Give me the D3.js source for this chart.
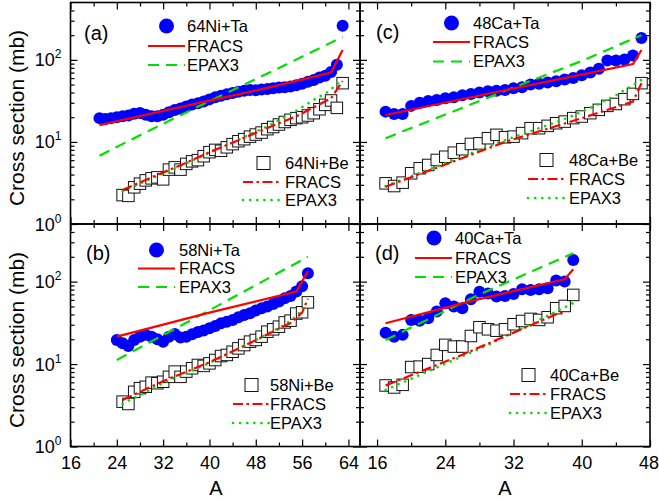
<!DOCTYPE html>
<html>
<head>
<meta charset="utf-8">
<style>
  body { margin: 0; background: #fff; }
  svg text { font-family: "Liberation Sans", Arial, sans-serif; fill: #000; }
</style>
</head>
<body>
<svg id="chart" width="659" height="501"></svg>
<script src="https://cdn.jsdelivr.net/npm/d3@7"></script>
<script>
// ---- data (cross sections in mb) ----
// (a) 64Ni
const aTaMass = d3.range(21, 64)
const aTaXs = [19.5, 19, 19.5, 20, 20.5, 21, 22, 22.5, 21.5, 20.5, 20.5, 21.5, 23, 24.5, 25.5, 27, 28.5, 29.5, 31, 33,
  35, 36.5, 38, 39.5, 41, 42, 43, 42.5, 43.5, 44, 45, 46, 46.5, 47.5, 49, 51, 54, 57, 61, 64, 71, 87, 260]
const aBeMass = d3.range(25, 64)
const aBeXs = [2.25, 2.2, 2.8, 3.1, 3.4, 3.6, 3.7, 3.5, 4.6, 4.9, 4.6, 5.4, 5.8, 6.0, 6.7, 7.5, 8.0, 7.8, 8.6, 9.4,
  10.2, 10.8, 11.6, 12.3, 13.0, 14.3, 15.2, 16.3, 17.5, 18.6, 19.5, 20, 21, 22.4, 25, 28.3, 32, 26, 52]
const aFracsTa = [[21, 16], [30, 22.2], [40, 31.8], [50, 45.5], [61, 70], [63, 132]]
const aEpaxTa = [[21, 6.8], [30, 14.2], [40, 31.5], [50, 68], [63, 190]]
const aFracsBe = [[25, 2.6], [30, 3.7], [35, 5.2], [40, 7.5], [45, 10.5], [50, 14.8], [55, 20.5], [61, 34], [63, 55]]
const aEpaxBe = [[25, 2.5], [30, 3.6], [35, 5.1], [40, 7.4], [45, 10.6], [50, 15.5], [55, 24], [58, 32.5], [60.5, 41], [63, 58]]

// (b) 58Ni
const bTaMass = d3.range(24, 58)
const bTaXs = [19.6, 17.9, 16.6, 19.6, 21.5, 22.6, 21.5, 20, 18.7, 21.5, 23.2, 21, 21.5, 23, 24.5, 25.5, 27.2, 29,
  31.2, 32.7, 34.3, 37, 39.4, 41.4, 44.5, 47.6, 50, 53.6, 57.2, 63, 67, 76, 88, 126]
const bBeMass = d3.range(25, 58)
const bBeXs = [3.5, 3.28, 4.6, 5.1, 5.3, 5.95, 5.85, 6.1, 7.0, 8.1, 7.0, 8.1, 8.9, 9.75, 9.5, 10.2, 11.2, 12.5, 12.9,
  14.1, 15.5, 17, 18.7, 19.6, 21.5, 24.7, 26.4, 28.4, 32, 33.6, 41, 42.5, 56]
const bFracsTa = [[24, 21.5], [40, 42], [55, 75.6], [57, 134]]
const bEpaxTa = [[24, 11.2], [40, 45], [57, 200]]
const bFracsBe = [[25, 3.67], [32, 6.2], [40, 10.5], [47, 18], [54, 31.5], [56, 42], [57, 62]]
const bEpaxBe = [[25, 3.3], [32, 5.9], [40, 10.3], [47, 18], [53, 30], [55, 38], [57, 55]]

// (c) 48Ca
const cTaMass = d3.range(17, 48)
const cTaXs = [23.4, 21.9, 21.9, 27.5, 30, 31.5, 32.5, 34, 35, 37, 38.5, 40, 41.5, 42, 43, 45, 46.5, 50, 51, 53,
  55, 57.5, 60, 65, 70, 78, 98, 98, 101, 113, 185]
const cBeMass = d3.range(17, 48)
const cBeXs = [3.13, 2.9, 3.19, 4.15, 4.78, 5.24, 6.03, 6.6, 7.4, 8.15, 9.45, 9.6, 11.1, 12.2, 11.4, 11.6, 12.8,
  14.7, 14.7, 15.7, 16.9, 17.7, 19.5, 20.4, 22.4, 24.6, 27.5, 29, 33.2, 38.5, 52]
const cFracsTa = [[17, 21.3], [30, 40.6], [46, 89], [47, 132]]
const cEpaxTa = [[17, 11.1], [32, 46], [40, 97], [47, 200]]
const cFracsBe = [[17, 2.85], [24, 5.3], [31, 10], [40, 19.5], [46, 31], [47, 52]]
const cEpaxBe = [[17, 2.9], [24, 5.5], [31, 10.5], [38, 19], [41, 26], [44, 37], [47, 57]]

// (d) 40Ca
const dTaMass = d3.range(17, 40)
const dTaXs = [24, 21.5, 22.6, 34.3, 33.6, 36, 43.3, 54.7, 49.8, 47.6, 61, 75.6, 72, 66, 67, 71, 81, 79, 81, 83,
  103, 100, 183]
const dBeMass = d3.range(17, 40)
const dBeXs = [5.5, 5.2, 5.6, 9.2, 9.3, 10, 12.9, 17.1, 16.3, 16.3, 21.9, 28, 26.4, 25.4, 26.4, 30.4, 33.3, 35.3,
  34.3, 37, 47.6, 50.7, 69]
const dFracsTa = [[17, 31.3], [27, 58], [38, 107], [39, 141]]
const dEpaxTa = [[17, 19.6], [28, 70], [39, 221]]
const dFracsBe = [[17, 5.5], [26, 13], [38, 44.5]]
const dEpaxBe = [[17, 4.85], [29, 17], [39, 55]]

// ticks
const leftMajor = [16, 24, 32, 40, 48, 56, 64]
const leftMinor = [20, 28, 36, 44, 52, 60]
const rightMajor = [16, 24, 32, 40, 48]
const rightMinor = [20, 28, 36, 44]
const yMajor = [1, 10, 100]
const yExp = ["0", "1", "2"]
const yMinor = [2, 3, 4, 5, 6, 7, 8, 9, 20, 30, 40, 50, 60, 70, 80, 90, 200, 300, 400]

// ---- layout ----
const L = 70.5, M = 360, R = 650, T = 2.5, H = 224, B = 446.5
const blue = "#0000ff", red = "#ff0000", green = "#00e000"

const svg = d3.select("#chart")

const panels = [
  { tag: "(a)", tagX: 84, tagY: 33, x0: L, x1: M, y0: T, y1: H, xd: [16, 66], major: leftMajor, minor: leftMinor,
    yLab: true, xLab: false, ta: [aTaMass, aTaXs], be: [aBeMass, aBeXs],
    fTa: aFracsTa, eTa: aEpaxTa, fBe: aFracsBe, eBe: aEpaxBe,
    nTa: "64Ni+Ta", nBe: "64Ni+Be",
    leg1: { mx: 166.5, lx: 148, tx: 187, y: [26, 46, 65] }, leg2: { mx: 263.5, lx: 243, tx: 285, y: [163, 182, 200] } },
  { tag: "(b)", tagX: 86, tagY: 253, x0: L, x1: M, y0: H, y1: B, xd: [16, 66], major: leftMajor, minor: leftMinor,
    yLab: true, xLab: true, ta: [bTaMass, bTaXs], be: [bBeMass, bBeXs],
    fTa: bFracsTa, eTa: bEpaxTa, fBe: bFracsBe, eBe: bEpaxBe,
    nTa: "58Ni+Ta", nBe: "58Ni+Be",
    leg1: { mx: 156.5, lx: 138, tx: 179, y: [250, 268.5, 287] }, leg2: { mx: 251.5, lx: 233, tx: 270, y: [385, 404, 423] } },
  { tag: "(c)", tagX: 376, tagY: 32, x0: M, x1: R, y0: T, y1: H, xd: [14, 48], major: rightMajor, minor: rightMinor,
    yLab: false, xLab: false, ta: [cTaMass, cTaXs], be: [cBeMass, cBeXs],
    fTa: cFracsTa, eTa: cEpaxTa, fBe: cFracsBe, eBe: cEpaxBe,
    nTa: "48Ca+Ta", nBe: "48Ca+Be",
    leg1: { mx: 451.5, lx: 433, tx: 473, y: [23, 42, 61.5] }, leg2: { mx: 546.5, lx: 528, tx: 569, y: [160, 179, 198] } },
  { tag: "(d)", tagX: 375, tagY: 253, x0: M, x1: R, y0: H, y1: B, xd: [14, 48], major: rightMajor, minor: rightMinor,
    yLab: false, xLab: true, ta: [dTaMass, dTaXs], be: [dBeMass, dBeXs],
    fTa: dFracsTa, eTa: dEpaxTa, fBe: dFracsBe, eBe: dEpaxBe,
    nTa: "40Ca+Ta", nBe: "40Ca+Be",
    leg1: { mx: 434, lx: 415, tx: 455, y: [238, 258, 277] }, leg2: { mx: 528.5, lx: 510, tx: 550, y: [375, 394, 413] } }
]

const styles = {
  fracsTa: { stroke: red, width: 2.2, dash: null, cap: "butt" },
  epaxTa: { stroke: green, width: 2.2, dash: "11 7", cap: "butt" },
  fracsBe: { stroke: red, width: 2.2, dash: "10 3.5 2.5 3.5", cap: "butt" },
  epaxBe: { stroke: green, width: 2.6, dash: "0.1 7", cap: "round" }
}

function styled(sel, s) {
  sel.attr("fill", "none").attr("stroke", s.stroke).attr("stroke-width", s.width)
    .attr("stroke-dasharray", s.dash).attr("stroke-linecap", s.cap)
  return sel
}

function tickAxis(g, axis, tx, ty) {
  const a = g.append("g").attr("transform", `translate(${tx},${ty})`).call(axis)
  a.select(".domain").remove()
  a.selectAll(".tick line").attr("stroke", "#000").attr("stroke-width", 1.2)
  a.selectAll("text").attr("font-size", 18).attr("font-family", "Liberation Sans, Arial, sans-serif")
  return a
}

panels.forEach(p => {
  const x = d3.scaleLinear().domain(p.xd).range([p.x0, p.x1])
  const y = d3.scaleLog().domain([1, 500]).range([p.y1, p.y0])
  const g = svg.append("g")

  // ticks, all pointing inward
  const xa = tickAxis(g, d3.axisBottom(x).tickValues(p.major).tickSize(-7).tickPadding(10)
    .tickFormat(p.xLab ? d3.format("d") : ""), 0, p.y1)
  // keep the last label at the right edge inside the window
  xa.selectAll(".tick text").filter(d => d === 48 && p.xd[1] === 48).attr("dx", -1.5)
  tickAxis(g, d3.axisBottom(x).tickValues(p.minor).tickSize(-4).tickFormat(""), 0, p.y1)
  tickAxis(g, d3.axisTop(x).tickValues(p.major).tickSize(-7).tickFormat(""), 0, p.y0)
  tickAxis(g, d3.axisTop(x).tickValues(p.minor).tickSize(-4).tickFormat(""), 0, p.y0)
  tickAxis(g, d3.axisLeft(y).tickValues(yMajor).tickSize(-7).tickFormat(""), p.x0, 0)
  tickAxis(g, d3.axisLeft(y).tickValues(yMinor).tickSize(-4).tickFormat(""), p.x0, 0)
  tickAxis(g, d3.axisRight(y).tickValues(yMajor).tickSize(-7).tickFormat(""), p.x1, 0)
  tickAxis(g, d3.axisRight(y).tickValues(yMinor).tickSize(-4).tickFormat(""), p.x1, 0)

  if (p.yLab) {
    yMajor.forEach((v, i) => {
      const t = g.append("text").attr("x", p.x0 - 9).attr("y", y(v) + 6.5)
        .attr("text-anchor", "end").attr("font-size", 18)
      t.append("tspan").text("10")
      t.append("tspan").attr("font-size", 12).attr("dy", -8).text(yExp[i])
    })
  }

  // markers: Be squares, Ta circles
  const s = 11.5
  g.append("g").selectAll("rect").data(d3.zip(p.be[0], p.be[1])).join("rect")
    .attr("x", d => x(d[0]) - s / 2).attr("y", d => y(d[1]) - s / 2)
    .attr("width", s).attr("height", s)
    .attr("fill", "#fff").attr("stroke", "#111").attr("stroke-width", 1)
  g.append("g").selectAll("circle").data(d3.zip(p.ta[0], p.ta[1])).join("circle")
    .attr("cx", d => x(d[0])).attr("cy", d => y(d[1])).attr("r", 6)
    .attr("fill", blue)

  // model curves
  const line = d3.line().x(d => x(d[0])).y(d => y(d[1]))
  styled(g.append("path").attr("d", line(p.eBe)), styles.epaxBe)
  styled(g.append("path").attr("d", line(p.fBe)), styles.fracsBe)
  styled(g.append("path").attr("d", line(p.eTa)), styles.epaxTa)
  styled(g.append("path").attr("d", line(p.fTa)), styles.fracsTa)

  // frame
  g.append("rect").attr("x", p.x0).attr("y", p.y0).attr("width", p.x1 - p.x0).attr("height", p.y1 - p.y0)
    .attr("fill", "none").attr("stroke", "#000").attr("stroke-width", 1.6)

  // panel tag
  g.append("text").attr("x", p.tagX).attr("y", p.tagY).attr("dy", "0.35em").attr("font-size", 20).text(p.tag)

  // legends
  const l1 = p.leg1, l2 = p.leg2
  g.append("circle").attr("cx", l1.mx).attr("cy", l1.y[0]).attr("r", 7.5).attr("fill", blue)
  styled(g.append("line").attr("x1", l1.lx).attr("x2", l1.lx + 37).attr("y1", l1.y[1]).attr("y2", l1.y[1]), styles.fracsTa)
  styled(g.append("line").attr("x1", l1.lx).attr("x2", l1.lx + 37).attr("y1", l1.y[2]).attr("y2", l1.y[2]), styles.epaxTa)
  g.append("rect").attr("x", l2.mx - 6.5).attr("y", l2.y[0] - 6.5).attr("width", 13).attr("height", 13)
    .attr("fill", "#fff").attr("stroke", "#111").attr("stroke-width", 1)
  styled(g.append("line").attr("x1", l2.lx).attr("x2", l2.lx + 36).attr("y1", l2.y[1]).attr("y2", l2.y[1]), styles.fracsBe)
  styled(g.append("line").attr("x1", l2.lx).attr("x2", l2.lx + 36).attr("y1", l2.y[2]).attr("y2", l2.y[2]), styles.epaxBe)
  const names1 = [p.nTa, "FRACS", "EPAX3"], names2 = [p.nBe, "FRACS", "EPAX3"]
  names1.forEach((n, i) => g.append("text").attr("x", l1.tx).attr("y", l1.y[i]).attr("dy", "0.35em")
    .attr("font-size", 16.5).text(n))
  names2.forEach((n, i) => g.append("text").attr("x", l2.tx).attr("y", l2.y[i]).attr("dy", "0.35em")
    .attr("font-size", 16.5).text(n))
})

// axis titles
svg.append("text").attr("transform", "translate(24,118) rotate(-90)").attr("text-anchor", "middle")
  .attr("font-size", 21).text("Cross section (mb)")
svg.append("text").attr("transform", "translate(24,340) rotate(-90)").attr("text-anchor", "middle")
  .attr("font-size", 21).text("Cross section (mb)")
svg.append("text").attr("x", 216).attr("y", 495).attr("text-anchor", "middle").attr("font-size", 20).text("A")
svg.append("text").attr("x", 505).attr("y", 495).attr("text-anchor", "middle").attr("font-size", 20).text("A")
</script>
</body>
</html>
